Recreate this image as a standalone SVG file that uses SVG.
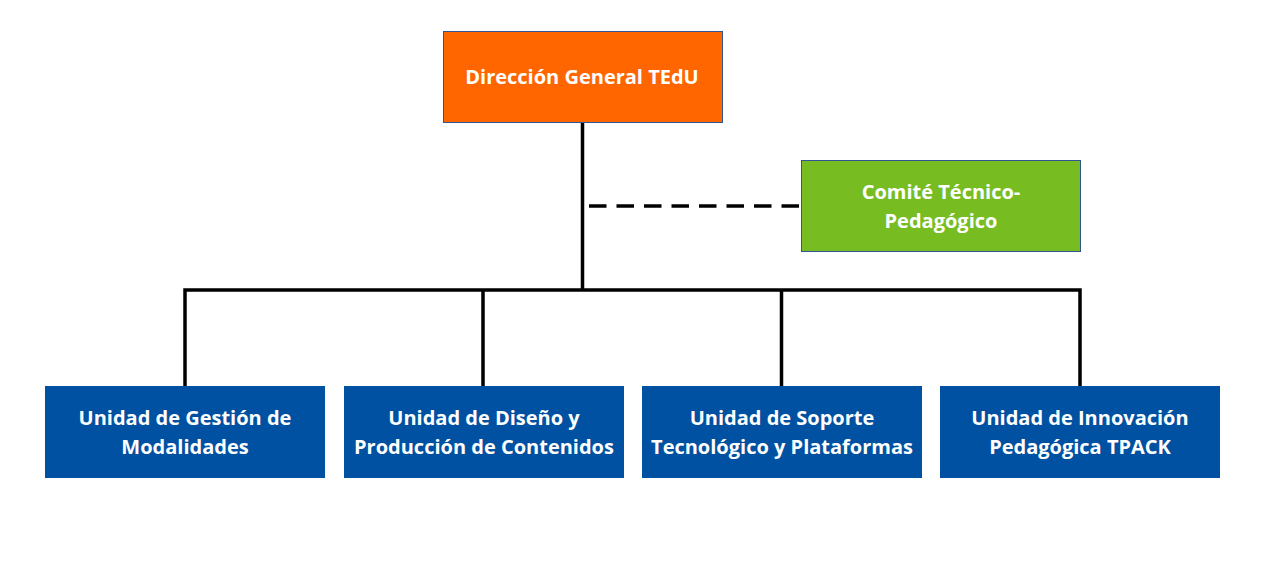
<svg xmlns="http://www.w3.org/2000/svg" width="1280" height="580" viewBox="0 0 1280 580">
<style>
.t{font-family:"Open Sans","Liberation Sans",sans-serif;font-weight:bold;font-size:20px;fill:#FFFFFF;text-anchor:middle;dominant-baseline:central}
.u{fill:#0051A1;stroke:#0051A1;stroke-width:1}
.c{stroke:#000;stroke-width:3.5;fill:none}
</style>
<rect width="1280" height="580" fill="#FFFFFF"/>
<g id="connectors">
<path class="c" d="M582.5 122V290M185 290H1080M185 288.25V386M483 290V386M781.5 290V386M1080 288.25V386"/>
<path class="c" d="M589 206H801" stroke-dasharray="17.5 10"/>
</g>
<g id="direccion">
<rect x="443.5" y="31.5" width="279" height="91" fill="#FF6600" stroke="#2F5597" stroke-width="1"/>
<text class="t" x="582" y="76">Dirección General TEdU</text>
</g>
<g id="comite">
<rect x="801.5" y="160.5" width="279" height="91" fill="#77BD22" stroke="#2F5597" stroke-width="1"/>
<text class="t" x="941" y="191">Comité Técnico-</text>
<text class="t" x="941" y="220">Pedagógico</text>
</g>
<g id="u1">
<rect class="u" x="45.5" y="386.5" width="279" height="91"/>
<text class="t" x="185" y="417">Unidad de Gestión de</text>
<text class="t" x="185" y="446">Modalidades</text>
</g>
<g id="u2">
<rect class="u" x="344.5" y="386.5" width="279" height="91"/>
<text class="t" x="484" y="417">Unidad de Diseño y</text>
<text class="t" x="484" y="446">Producción de Contenidos</text>
</g>
<g id="u3">
<rect class="u" x="642.5" y="386.5" width="279" height="91"/>
<text class="t" x="782" y="417">Unidad de Soporte</text>
<text class="t" x="782" y="446">Tecnológico y Plataformas</text>
</g>
<g id="u4">
<rect class="u" x="940.5" y="386.5" width="279" height="91"/>
<text class="t" x="1080" y="417">Unidad de Innovación</text>
<text class="t" x="1080" y="446">Pedagógica TPACK</text>
</g>
</svg>
